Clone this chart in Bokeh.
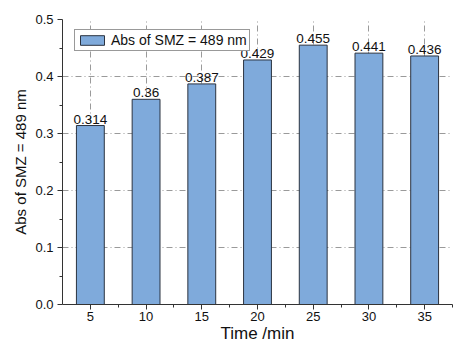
from bokeh.plotting import figure
from bokeh.models import ColumnDataSource, FixedTicker, Legend, LegendItem, LabelSet, NumeralTickFormatter
from bokeh.core.properties import value
from bokeh.embed import file_html
from bokeh.resources import INLINE

times = [5, 10, 15, 20, 25, 30, 35]
absorbance = [0.314, 0.36, 0.387, 0.429, 0.455, 0.441, 0.436]
labels = ["0.314", "0.36", "0.387", "0.429", "0.455", "0.441", "0.436"]
y_ticks = [0.0, 0.1, 0.2, 0.3, 0.4, 0.5]
series_name = "Abs of SMZ = 489 nm"

FONT = "Liberation Sans"

src = ColumnDataSource(dict(x=times, top=absorbance, lab=labels))

p = figure(width=466, height=347, output_backend="svg", toolbar_location=None,
           x_range=(2.5, 37.5), y_range=(0, 0.5),
           min_border_left=62, min_border_right=14, min_border_top=19, min_border_bottom=43)
p.outline_line_color = None
p.background_fill_color = "white"
p.border_fill_color = "white"

r = p.vbar(x="x", top="top", width=2.5, source=src,
           fill_color="#7FAADB", line_color="#2b3340", line_width=1)

lbl = LabelSet(x="x", y="top", text="lab", source=src, text_align="center",
               text_baseline="bottom", y_offset=2, text_font=value(FONT),
               text_font_size="13.5px", text_color="#111111")
p.add_layout(lbl)

p.xaxis.ticker = FixedTicker(ticks=times, minor_ticks=[7.5, 12.5, 17.5, 22.5, 27.5, 32.5, 37.5])
p.yaxis.ticker = FixedTicker(ticks=y_ticks, minor_ticks=[0.05, 0.15, 0.25, 0.35, 0.45])
p.yaxis.formatter = NumeralTickFormatter(format="0.0")

for ax in (p.xaxis[0], p.yaxis[0]):
    ax.axis_line_color = "#333333"
    ax.major_tick_line_color = "#333333"
    ax.minor_tick_line_color = "#333333"
    ax.major_tick_out = 5
    ax.major_tick_in = 0
    ax.minor_tick_out = 3
    ax.minor_tick_in = 0
    ax.major_label_text_font = FONT
    ax.major_label_text_font_size = "13px"
    ax.major_label_text_color = "#111111"
    ax.axis_label_text_font = FONT
    ax.axis_label_text_font_style = "normal"
    ax.axis_label_text_color = "#111111"

p.xaxis.axis_label = "Time /min"
p.yaxis.axis_label = series_name
p.xaxis.axis_label_text_font_size = "17px"
p.yaxis.axis_label_text_font_size = "15px"
p.xaxis.axis_label_standoff = 0
p.yaxis.axis_label_standoff = 3
p.xaxis.major_label_standoff = 2
p.yaxis.major_label_standoff = 4

for g in (p.xgrid[0], p.ygrid[0]):
    g.grid_line_color = "#9a9a9a"
    g.grid_line_dash = "6 3 1 3"
    g.grid_line_width = 1

legend = Legend(items=[LegendItem(label=series_name, renderers=[r])],
                location=(12, 253), margin=0, padding=2, spacing=0,
                glyph_width=30, glyph_height=12, label_height=12,
                label_text_font=FONT, label_text_font_size="14px",
                label_text_color="#111111", label_standoff=4,
                border_line_color="#333333", border_line_width=1,
                background_fill_color="white", background_fill_alpha=1.0)
p.add_layout(legend)

open("out.html", "w").write(file_html(p, INLINE))
